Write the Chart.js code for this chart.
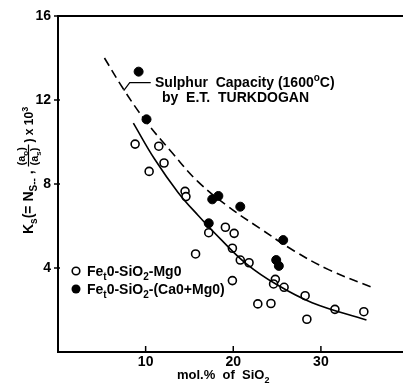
<!DOCTYPE html>
<html>
<head>
<meta charset="utf-8">
<script src="https://cdn.jsdelivr.net/npm/chart.js@4/dist/chart.umd.min.js"></script>
<style>
  body { margin: 0; background: #fff; }
</style>
</head>
<body>
<canvas id="myChart" width="408" height="385"></canvas>
<script>
// open circles: FetO-SiO2-MgO
var openX = [8.8, 11.5, 12.1, 10.4, 14.5, 14.6, 17.2, 19.1, 20.1, 19.9, 15.7, 20.8, 21.8, 19.9, 24.8, 24.6, 25.8, 28.2, 22.8, 24.3, 31.6, 34.9, 28.4];
var openY = [9.9, 9.8, 9.0, 8.6, 7.65, 7.4, 5.68, 5.94, 5.65, 4.94, 4.67, 4.38, 4.25, 3.4, 3.46, 3.24, 3.08, 2.68, 2.29, 2.31, 2.03, 1.92, 1.56];
// filled circles: FetO-SiO2-(CaO+MgO)
var fullX = [9.2, 10.1, 17.6, 18.3, 20.8, 17.2, 25.7, 24.9, 25.2];
var fullY = [13.35, 11.08, 7.27, 7.43, 6.92, 6.13, 5.33, 4.38, 4.1];
// Turkdogan sulphur capacity curve (dashed)
var turkX = [5.3, 7.5, 10, 13, 16, 19.5, 23, 27, 31, 36];
var turkY = [14.0, 12.5, 11.0, 9.5, 8.1, 6.9, 5.9, 4.8, 3.9, 3.05];
// fitted curve through open circles (solid)
var fitX = [8.6, 11, 13.7, 16, 18.5, 21.5, 25, 29, 35.2];
var fitY = [10.9, 9.2, 7.6, 6.5, 5.4, 4.2, 3.2, 2.35, 1.52];

var xTicks = [10, 20, 30];
var yTicks = [4, 8, 12, 16];

function pts(xs, ys) {
  return xs.map(function (x, i) { return { x: x, y: ys[i] }; });
}

// draw text made of pieces: [text, 'sub' | 'sup' | '']
function rich(ctx, x, y, parts, size, font) {
  var cx = x;
  parts.forEach(function (p) {
    var s = p[1] ? Math.round(size * 0.72) : size;
    ctx.font = 'bold ' + s + 'px ' + font;
    var dy = p[1] === 'sub' ? size * 0.3 : (p[1] === 'sup' ? -size * 0.45 : 0);
    ctx.fillText(p[0], cx, y + dy);
    cx += ctx.measureText(p[0]).width;
  });
  return cx;
}

var extras = {
  id: 'extras',
  afterDraw: function (chart) {
    var ctx = chart.ctx;
    var xs = chart.scales.x, ys = chart.scales.y;
    var a = chart.chartArea;
    ctx.save();
    ctx.strokeStyle = '#000';
    ctx.fillStyle = '#000';
    ctx.lineWidth = 1.5;
    // tick marks
    yTicks.forEach(function (v) {
      var py = ys.getPixelForValue(v);
      ctx.beginPath(); ctx.moveTo(a.left - 4, py); ctx.lineTo(a.left + 2, py); ctx.stroke();
    });
    xTicks.forEach(function (v) {
      var px = xs.getPixelForValue(v);
      ctx.beginPath(); ctx.moveTo(px, a.bottom); ctx.lineTo(px, a.bottom - 6); ctx.stroke();
    });

    ctx.textBaseline = 'alphabetic';
    ctx.textAlign = 'left';
    var f = '"Liberation Sans", Arial, sans-serif';

    // annotation with leader
    var lx = xs.getPixelForValue(7.5), ly = ys.getPixelForValue(12.45);
    ctx.lineWidth = 1.2;
    ctx.beginPath();
    ctx.moveTo(lx, ly);
    ctx.lineTo(lx + 6, ly - 8);
    ctx.lineTo(lx + 27, ly - 8);
    ctx.stroke();
    rich(ctx, 155, 87, [['Sulphur  Capacity (1600', ''], ['o', 'sup'], ['C)', '']], 14, f);
    rich(ctx, 162, 102, [['by  E.T.  TURKDOGAN', '']], 14, f);

    // legend
    ctx.lineWidth = 1.6;
    ctx.beginPath(); ctx.arc(76, 271, 3.8, 0, Math.PI * 2); ctx.stroke();
    ctx.beginPath(); ctx.arc(76, 289, 4.5, 0, Math.PI * 2); ctx.fill();
    rich(ctx, 87, 276, [['Fe', ''], ['t', 'sub'], ['0-SiO', ''], ['2', 'sub'], ['-Mg0', '']], 14, f);
    rich(ctx, 87, 294, [['Fe', ''], ['t', 'sub'], ['0-SiO', ''], ['2', 'sub'], ['-(Ca0+Mg0)', '']], 14, f);

    // x axis title
    rich(ctx, 177, 379, [['mol.%  of  SiO', ''], ['2', 'sub']], 13, f);

    // y axis title, rotated
    ctx.translate(28, 234);
    ctx.rotate(-Math.PI / 2);
    var cx = rich(ctx, 0, 5, [['K', ''], ['s', 'sub'], ['(= N', ''], ['S--', 'sub'], [' , ', '']], 14, f);
    var fw = 22;
    rich(ctx, cx + 1, -3, [['(a', ''], ['o', 'sub'], [')', '']], 11, f);
    rich(ctx, cx + 1, 10, [['(a', ''], ['s', 'sub'], [')', '']], 11, f);
    ctx.lineWidth = 1.2;
    ctx.beginPath(); ctx.moveTo(cx, 0.5); ctx.lineTo(cx + fw, 0.5); ctx.stroke();
    rich(ctx, cx + fw + 2, 5, [[') x 10', ''], ['3', 'sup']], 12, f);
    ctx.restore();
  }
};

new Chart('myChart', {
  type: 'scatter',
  data: {
    datasets: [
      {
        type: 'line',
        data: pts(turkX, turkY),
        borderColor: '#000',
        borderWidth: 1.6,
        borderDash: [9, 5],
        pointRadius: 0,
        tension: 0.4,
        fill: false
      },
      {
        type: 'line',
        data: pts(fitX, fitY),
        borderColor: '#000',
        borderWidth: 1.6,
        pointRadius: 0,
        tension: 0.4,
        fill: false
      },
      {
        data: pts(openX, openY),
        backgroundColor: '#fff',
        borderColor: '#000',
        borderWidth: 1.6,
        pointRadius: 4
      },
      {
        data: pts(fullX, fullY),
        backgroundColor: '#000',
        borderColor: '#000',
        borderWidth: 1,
        pointRadius: 4.5
      }
    ]
  },
  options: {
    responsive: false,
    animation: false,
    layout: { padding: { top: 16, right: 0, left: 0, bottom: 0 } },
    plugins: { legend: { display: false }, tooltip: { enabled: false } },
    scales: {
      x: {
        type: 'linear', position: 'bottom', min: 0, max: 39.3,
        grid: { display: false, drawTicks: false },
        border: { display: true, color: '#000', width: 2 },
        ticks: {
          stepSize: 10, color: '#000', padding: 2, maxRotation: 0,
          font: { family: '"Liberation Sans", Arial, sans-serif', size: 14, weight: 'bold' },
          callback: function (v) { return xTicks.indexOf(v) >= 0 ? v : ''; }
        },
        afterFit: function (s) { s.height = 33; }
      },
      x2: {
        type: 'linear', position: 'top', min: 0, max: 39.3,
        grid: { display: false, drawTicks: false },
        border: { display: true, color: '#000', width: 2 },
        ticks: { display: false },
        afterFit: function (s) { s.height = 0; }
      },
      y: {
        min: 0, max: 16,
        grid: { display: false, drawTicks: false },
        border: { display: true, color: '#000', width: 2 },
        ticks: {
          stepSize: 4, color: '#000', padding: 7,
          font: { family: '"Liberation Sans", Arial, sans-serif', size: 14, weight: 'bold' },
          callback: function (v) { return yTicks.indexOf(v) >= 0 ? v : ''; }
        },
        afterFit: function (s) { s.width = 58; }
      }
    }
  },
  plugins: [extras]
});
</script>
</body>
</html>
